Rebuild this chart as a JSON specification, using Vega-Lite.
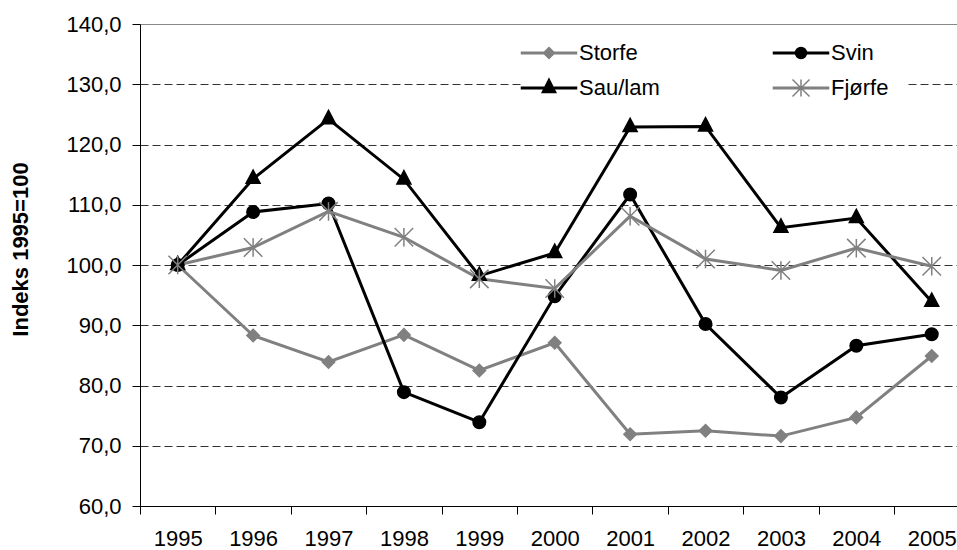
{
  "$schema": "https://vega.github.io/schema/vega-lite/v6.json",
  "width": 817,
  "height": 482,
  "autosize": "none",
  "padding": {"left": 140, "top": 24, "right": 0, "bottom": 44},
  "background": "white",
  "config": {"font": "Liberation Sans", "view": {"stroke": null}},
  "data": {
    "values": [
      {"series": "Storfe", "year": 1995, "value": 100.0},
      {"series": "Storfe", "year": 1996, "value": 88.3},
      {"series": "Storfe", "year": 1997, "value": 83.9},
      {"series": "Storfe", "year": 1998, "value": 88.4},
      {"series": "Storfe", "year": 1999, "value": 82.5},
      {"series": "Storfe", "year": 2000, "value": 87.1},
      {"series": "Storfe", "year": 2001, "value": 71.9},
      {"series": "Storfe", "year": 2002, "value": 72.5},
      {"series": "Storfe", "year": 2003, "value": 71.6},
      {"series": "Storfe", "year": 2004, "value": 74.7},
      {"series": "Storfe", "year": 2005, "value": 84.9},
      {"series": "Svin", "year": 1995, "value": 100.0},
      {"series": "Svin", "year": 1996, "value": 108.8},
      {"series": "Svin", "year": 1997, "value": 110.2},
      {"series": "Svin", "year": 1998, "value": 78.9},
      {"series": "Svin", "year": 1999, "value": 73.9},
      {"series": "Svin", "year": 2000, "value": 94.8},
      {"series": "Svin", "year": 2001, "value": 111.7},
      {"series": "Svin", "year": 2002, "value": 90.2},
      {"series": "Svin", "year": 2003, "value": 78.0},
      {"series": "Svin", "year": 2004, "value": 86.6},
      {"series": "Svin", "year": 2005, "value": 88.5},
      {"series": "Sau/lam", "year": 1995, "value": 100.0},
      {"series": "Sau/lam", "year": 1996, "value": 114.3},
      {"series": "Sau/lam", "year": 1997, "value": 124.2},
      {"series": "Sau/lam", "year": 1998, "value": 114.2},
      {"series": "Sau/lam", "year": 1999, "value": 98.2},
      {"series": "Sau/lam", "year": 2000, "value": 102.0},
      {"series": "Sau/lam", "year": 2001, "value": 122.9},
      {"series": "Sau/lam", "year": 2002, "value": 123.0},
      {"series": "Sau/lam", "year": 2003, "value": 106.2},
      {"series": "Sau/lam", "year": 2004, "value": 107.8},
      {"series": "Sau/lam", "year": 2005, "value": 93.9},
      {"series": "Fjørfe", "year": 1995, "value": 100.0},
      {"series": "Fjørfe", "year": 1996, "value": 102.9},
      {"series": "Fjørfe", "year": 1997, "value": 108.9},
      {"series": "Fjørfe", "year": 1998, "value": 104.6},
      {"series": "Fjørfe", "year": 1999, "value": 97.7},
      {"series": "Fjørfe", "year": 2000, "value": 96.1},
      {"series": "Fjørfe", "year": 2001, "value": 108.1},
      {"series": "Fjørfe", "year": 2002, "value": 101.0},
      {"series": "Fjørfe", "year": 2003, "value": 99.1},
      {"series": "Fjørfe", "year": 2004, "value": 102.8},
      {"series": "Fjørfe", "year": 2005, "value": 99.8}
    ]
  },
  "encoding": {
    "x": {
      "field": "year",
      "type": "quantitative",
      "scale": {"domain": [1994.5, 2005.335], "nice": false, "zero": false},
      "axis": {
        "title": null,
        "grid": false,
        "values": [1994.5, 1995, 1995.5, 1996, 1996.5, 1997, 1997.5, 1998, 1998.5, 1999, 1999.5, 2000, 2000.5, 2001, 2001.5, 2002, 2002.5, 2003, 2003.5, 2004, 2004.5, 2005],
        "labelExpr": "datum.value % 1 === 0 ? format(datum.value, 'd') : ''",
        "labelOverlap": false,
        "labelFlush": false,
        "labelFontSize": 22,
        "labelColor": "black",
        "labelPadding": 14,
        "tickSize": 8,
        "tickColor": "black",
        "tickOpacity": {"condition": {"test": "datum.value % 1 === 0", "value": 0}, "value": 1},
        "domainColor": "black",
        "domainWidth": 1
      }
    },
    "y": {
      "field": "value",
      "type": "quantitative",
      "scale": {"domain": [60, 140], "nice": false, "zero": false},
      "axis": {
        "title": "Indeks 1995=100",
        "titleFontSize": 22,
        "titleFontWeight": "bold",
        "titleColor": "black",
        "titleAngle": -90,
        "titleAlign": "center",
        "titleBaseline": "alphabetic",
        "titleX": -113,
        "titleY": 225,
        "values": [60, 70, 80, 90, 100, 110, 120, 130, 140],
        "labelExpr": "replace(format(datum.value, '.1f'), '.', ',')",
        "labelFontSize": 22,
        "labelColor": "black",
        "labelPadding": 11,
        "tickSize": 8,
        "tickColor": "black",
        "domainColor": "black",
        "domainWidth": 1,
        "grid": true,
        "gridColor": {"condition": {"test": "datum.value === 140", "value": "#888888"}, "value": "#333333"},
        "gridDash": {"condition": {"test": "datum.value === 140", "value": []}, "value": [8, 4]},
        "gridWidth": 1
      }
    }
  },
  "layer": [
    {
      "mark": {"type": "line", "strokeWidth": 3},
      "encoding": {
        "color": {
          "field": "series",
          "type": "nominal",
          "scale": {"domain": ["Storfe", "Svin", "Sau/lam", "Fjørfe"], "range": ["#808080", "#000000", "#000000", "#808080"]},
          "legend": null
        }
      }
    },
    {
      "mark": {"type": "point", "filled": true, "size": 100, "strokeWidth": 1.5, "opacity": 1},
      "encoding": {
        "shape": {
          "field": "series",
          "type": "nominal",
          "scale": {
            "domain": ["Storfe", "Svin", "Sau/lam", "Fjørfe"],
            "range": [
              "M0,-1.25L1.25,0L0,1.25L-1.25,0Z",
              "M1.25,0A1.25,1.25,0,1,1,-1.25,0A1.25,1.25,0,1,1,1.25,0Z",
              "M0,-1.75L1.4,0.9L-1.4,0.9Z",
              "M0,-1.85V1.85M-1.85,-1.85L1.85,1.85M-1.85,1.85L1.85,-1.85"
            ]
          },
          "legend": null
        },
        "fill": {
          "field": "series",
          "type": "nominal",
          "scale": {"domain": ["Storfe", "Svin", "Sau/lam", "Fjørfe"], "range": ["#808080", "#000000", "#000000", "#808080"]},
          "legend": null
        },
        "stroke": {
          "field": "series",
          "type": "nominal",
          "scale": {"domain": ["Storfe", "Svin", "Sau/lam", "Fjørfe"], "range": ["#808080", "#000000", "#000000", "#808080"]},
          "legend": null
        }
      }
    },
    {
      "transform": [{"filter": "false"}],
      "mark": {"type": "point", "filled": true, "size": 400, "strokeWidth": 1.5, "opacity": 1},
      "encoding": {
        "shape": {
          "field": "series",
          "type": "nominal",
          "scale": {
            "domain": ["Storfe", "Sau/lam", "Svin", "Fjørfe"],
            "range": [
              "M-2.75,-0.075H2.75V0.075H-2.75ZM0,-0.55L0.55,0L0,0.55L-0.55,0Z",
              "M-2.75,-0.075H2.75V0.075H-2.75ZM0,-0.9L0.68,0.45L-0.68,0.45Z",
              "M-2.75,-0.075H2.75V0.075H-2.75ZM0.55,0A0.55,0.55,0,1,1,-0.55,0A0.55,0.55,0,1,1,0.55,0Z",
              "M-2.75,-0.075H2.75V0.075H-2.75ZM0,-0.85V0.85M-0.85,-0.85L0.85,0.85M-0.85,0.85L0.85,-0.85"
            ]
          },
          "legend": {
            "title": null,
            "orient": "none",
            "legendX": 382,
            "legendY": 2,
            "columns": 2,
            "symbolSize": 400,
            "symbolStrokeWidth": 1.5,
            "symbolOpacity": 1,
            "labelFontSize": 22,
            "labelColor": "black",
            "labelOffset": 19,
            "labelLimit": 0,
            "rowPadding": 12,
            "columnPadding": 110,
            "padding": 16,
            "fillColor": "white",
            "strokeColor": null
          }
        },
        "fill": {
          "field": "series",
          "type": "nominal",
          "scale": {"domain": ["Storfe", "Sau/lam", "Svin", "Fjørfe"], "range": ["#808080", "#000000", "#000000", "#808080"]}
        },
        "stroke": {
          "field": "series",
          "type": "nominal",
          "scale": {"domain": ["Storfe", "Sau/lam", "Svin", "Fjørfe"], "range": ["#808080", "#000000", "#000000", "#808080"]}
        }
      }
    }
  ],
  "resolve": {"scale": {"shape": "independent", "fill": "independent", "stroke": "independent"}}
}
